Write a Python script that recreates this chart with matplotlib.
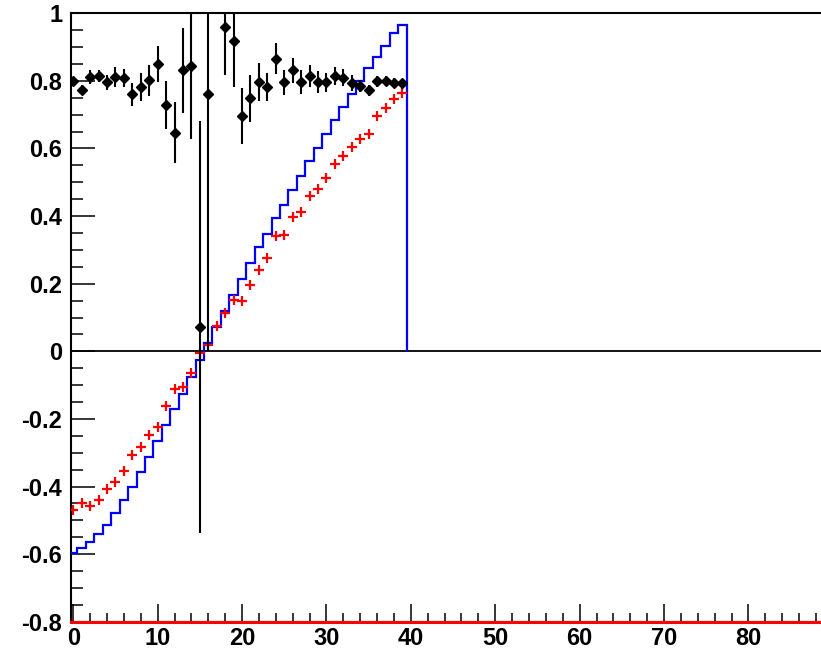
import numpy as np
import matplotlib.pyplot as plt
from matplotlib.ticker import MultipleLocator, FuncFormatter

# bin centres 0..39, bin edges -0.5..39.5
x_bins = np.arange(40)
x_edges = np.arange(41) - 0.5

# black points: ratio with errors (bin 17 empty)
ratio = [0.800, 0.774, 0.812, 0.814, 0.796, 0.812, 0.808, 0.760, 0.782, 0.802,
         0.850, 0.730, 0.647, 0.831, 0.843, 0.072, 0.760, np.nan, 0.959, 0.917,
         0.696, 0.748, 0.796, 0.782, 0.866, 0.796, 0.831, 0.796, 0.814, 0.796,
         0.796, 0.814, 0.809, 0.794, 0.786, 0.772, 0.799, 0.799, 0.794, 0.794]
ratio_err = [0.008, 0.013, 0.020, 0.018, 0.022, 0.030, 0.027, 0.033, 0.040, 0.046,
             0.054, 0.071, 0.090, 0.126, 0.216, 0.610, 0.760, 0.0, 0.143, 0.135,
             0.084, 0.070, 0.056, 0.040, 0.046, 0.037, 0.036, 0.035, 0.033, 0.033,
             0.028, 0.026, 0.025, 0.023, 0.018, 0.017, 0.016, 0.015, 0.015, 0.013]

# red crosses
measured = [-0.471, -0.448, -0.459, -0.441, -0.407, -0.387, -0.355, -0.306, -0.282, -0.247,
            -0.224, -0.162, -0.113, -0.106, -0.064, -0.005, 0.020, 0.074, 0.113, 0.152,
            0.149, 0.195, 0.241, 0.276, 0.340, 0.345, 0.397, 0.412, 0.458, 0.480,
            0.512, 0.554, 0.578, 0.603, 0.629, 0.642, 0.695, 0.720, 0.745, 0.765]

# blue histogram
expected = [-0.596, -0.583, -0.564, -0.541, -0.513, -0.478, -0.441, -0.400, -0.358, -0.312,
            -0.265, -0.218, -0.172, -0.126, -0.076, -0.025, 0.024, 0.071, 0.118, 0.167,
            0.214, 0.260, 0.308, 0.348, 0.395, 0.434, 0.477, 0.518, 0.564, 0.600,
            0.642, 0.683, 0.724, 0.760, 0.799, 0.838, 0.871, 0.904, 0.941, 0.966]

x_ticks = [0, 10, 20, 30, 40, 50, 60, 70, 80]

plt.rcParams['font.family'] = ['Liberation Sans', 'DejaVu Sans']

fig = plt.figure(figsize=(8.21, 6.49), dpi=100)
ax = fig.add_axes([70.7 / 821, (649 - 621.7) / 649, 1 - 70.7 / 821, (621.7 - 13.3) / 649])

ax.stairs(expected, x_edges, baseline=0, color='#0000ff', lw=1.6, zorder=3)
ax.plot(x_bins, measured, ls='none', marker='+', color='red', ms=7.5, mew=1.6, zorder=4)
ax.errorbar(x_bins, ratio, yerr=ratio_err, fmt='D', color='black', ms=5.5,
            elinewidth=1.5, capsize=0, zorder=5)

ax.axhline(0, color='black', lw=1.3, zorder=2)
ax.axhline(-0.8, color='red', lw=2.2, zorder=6, clip_on=False)

ax.set_xlim(-0.3, 88.6)
ax.set_ylim(-0.8, 1.0)

ax.spines['right'].set_visible(False)
for s in ['top', 'left', 'bottom']:
    ax.spines[s].set_linewidth(1.5)

ax.set_xticks(x_ticks)
ax.xaxis.set_minor_locator(MultipleLocator(2))
ax.yaxis.set_major_locator(MultipleLocator(0.2))
ax.yaxis.set_minor_locator(MultipleLocator(0.05))
ax.yaxis.set_major_formatter(FuncFormatter(lambda v, p: '%g' % round(v, 2)))

ax.tick_params(axis='y', which='major', direction='in', length=17, width=1.1, pad=6,
               labelsize=17)
ax.tick_params(axis='y', which='minor', direction='in', length=8.5, width=1.1)
ax.tick_params(axis='x', which='major', direction='in', length=13, width=1.1, pad=4,
               labelsize=17)
ax.tick_params(axis='x', which='minor', direction='in', length=6.5, width=1.1)
for lab in ax.get_xticklabels() + ax.get_yticklabels():
    lab.set_fontweight('bold')

fig.savefig('out.png', dpi=100)
